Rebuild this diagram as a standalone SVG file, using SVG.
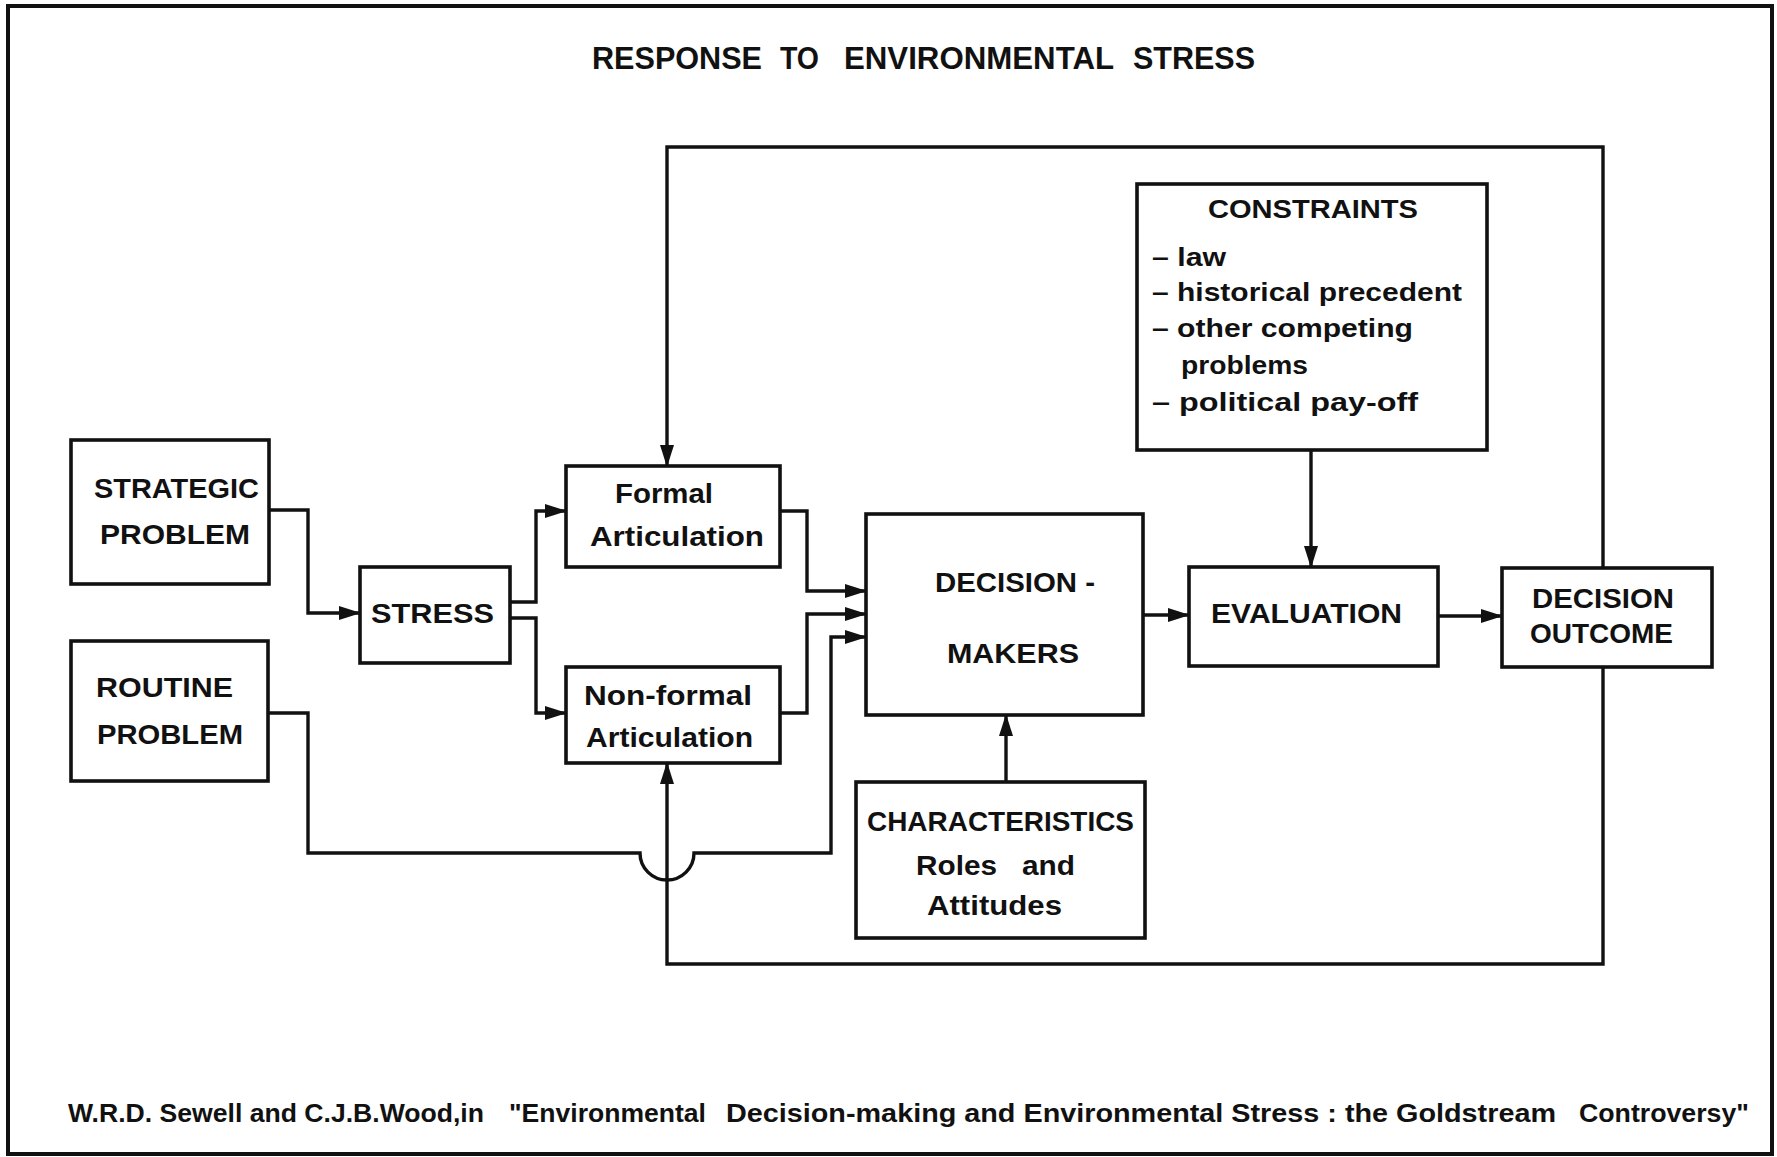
<svg xmlns="http://www.w3.org/2000/svg" width="1777" height="1157" viewBox="0 0 1777 1157">
<style>
.box{fill:#fff;stroke:#111;stroke-width:3.6}
.ln{fill:none;stroke:#111;stroke-width:3.4}
text{font-family:"Liberation Sans",Arial,sans-serif;font-weight:bold;fill:#111}
.t{font-size:28px}
.s{font-size:25px}
.h{font-size:32px}
.f{font-size:25px}
</style>
<defs>
<marker id="ah" markerUnits="userSpaceOnUse" markerWidth="22" markerHeight="14" refX="21" refY="7" orient="auto">
<path d="M0,0 L22,7 L0,14 z" fill="#111"/>
</marker>
</defs>
<rect width="1777" height="1157" fill="#fff"/>
<rect x="8" y="6" width="1764" height="1148" fill="none" stroke="#111" stroke-width="4"/>
<g id="title">
<text class="h" x="592" y="69" textLength="170" lengthAdjust="spacingAndGlyphs">RESPONSE</text>
<text class="h" x="780" y="69" textLength="39" lengthAdjust="spacingAndGlyphs">TO</text>
<text class="h" x="844" y="69" textLength="270" lengthAdjust="spacingAndGlyphs">ENVIRONMENTAL</text>
<text class="h" x="1133" y="69" textLength="122" lengthAdjust="spacingAndGlyphs">STRESS</text>
</g>

<g id="connectors">
<path class="ln" d="M1603,568 V147 H667 V466" marker-end="url(#ah)"/>
<path class="ln" d="M1603,667 V964 H667 V763" marker-end="url(#ah)"/>
<path class="ln" d="M269,510 H308 V613 H360" marker-end="url(#ah)"/>
<path class="ln" d="M510,602 H536 V511 H566" marker-end="url(#ah)"/>
<path class="ln" d="M510,618 H536 V713 H566" marker-end="url(#ah)"/>
<path class="ln" d="M780,511 H807 V591 H866" marker-end="url(#ah)"/>
<path class="ln" d="M780,713 H807 V614 H866" marker-end="url(#ah)"/>
<path class="ln" d="M268,713 H308 V853 H640 A27,27 0 0 0 694,853 H831 V637 H866" marker-end="url(#ah)"/>
<path class="ln" d="M1311,450 V567" marker-end="url(#ah)"/>
<path class="ln" d="M1006,782 V715" marker-end="url(#ah)"/>
<path class="ln" d="M1143,615 H1189" marker-end="url(#ah)"/>
<path class="ln" d="M1438,616 H1502" marker-end="url(#ah)"/>
</g>

<g id="strategic">
<rect class="box" x="71" y="440" width="198" height="144"/>
<text class="t" x="94" y="498" textLength="165" lengthAdjust="spacingAndGlyphs">STRATEGIC</text>
<text class="t" x="100" y="544" textLength="150" lengthAdjust="spacingAndGlyphs">PROBLEM</text>
</g>
<g id="routine">
<rect class="box" x="71" y="641" width="197" height="140"/>
<text class="t" x="96" y="697" textLength="137" lengthAdjust="spacingAndGlyphs">ROUTINE</text>
<text class="t" x="97" y="744" textLength="146" lengthAdjust="spacingAndGlyphs">PROBLEM</text>
</g>
<g id="stress">
<rect class="box" x="360" y="567" width="150" height="96"/>
<text class="t" x="371" y="623" textLength="123" lengthAdjust="spacingAndGlyphs">STRESS</text>
</g>
<g id="formal">
<rect class="box" x="566" y="466" width="214" height="101"/>
<text class="t" x="615" y="503" textLength="98" lengthAdjust="spacingAndGlyphs">Formal</text>
<text class="t" x="590" y="546" textLength="174" lengthAdjust="spacingAndGlyphs">Articulation</text>
</g>
<g id="nonformal">
<rect class="box" x="566" y="667" width="214" height="96"/>
<text class="t" x="584" y="705" textLength="168" lengthAdjust="spacingAndGlyphs">Non-formal</text>
<text class="t" x="586" y="747" textLength="167" lengthAdjust="spacingAndGlyphs">Articulation</text>
</g>
<g id="decisionmakers">
<rect class="box" x="866" y="514" width="277" height="201"/>
<text class="t" x="935" y="592" textLength="160" lengthAdjust="spacingAndGlyphs">DECISION -</text>
<text class="t" x="947" y="663" textLength="132" lengthAdjust="spacingAndGlyphs">MAKERS</text>
</g>
<g id="constraints">
<rect class="box" x="1137" y="184" width="350" height="266"/>
<text class="s" x="1208" y="218" textLength="210" lengthAdjust="spacingAndGlyphs">CONSTRAINTS</text>
<text class="s" x="1152" y="266" textLength="74" lengthAdjust="spacingAndGlyphs">– law</text>
<text class="s" x="1152" y="301" textLength="310" lengthAdjust="spacingAndGlyphs">– historical precedent</text>
<text class="s" x="1152" y="337" textLength="261" lengthAdjust="spacingAndGlyphs">– other competing</text>
<text class="s" x="1181" y="374" textLength="127" lengthAdjust="spacingAndGlyphs">problems</text>
<text class="s" x="1152" y="411" textLength="266" lengthAdjust="spacingAndGlyphs">– political pay-off</text>
</g>
<g id="evaluation">
<rect class="box" x="1189" y="567" width="249" height="99"/>
<text class="t" x="1211" y="623" textLength="191" lengthAdjust="spacingAndGlyphs">EVALUATION</text>
</g>
<g id="outcome">
<rect class="box" x="1502" y="568" width="210" height="99"/>
<text class="t" x="1532" y="608" font-size="29" textLength="142" lengthAdjust="spacingAndGlyphs">DECISION</text>
<text class="t" x="1530" y="643" font-size="29" textLength="143" lengthAdjust="spacingAndGlyphs">OUTCOME</text>
</g>
<g id="characteristics">
<rect class="box" x="856" y="782" width="289" height="156"/>
<text class="t" x="867" y="831" textLength="267" lengthAdjust="spacingAndGlyphs">CHARACTERISTICS</text>
<text class="t" x="916" y="875" textLength="81" lengthAdjust="spacingAndGlyphs">Roles</text>
<text class="t" x="1022" y="875" textLength="53" lengthAdjust="spacingAndGlyphs">and</text>
<text class="t" x="927" y="915" textLength="135" lengthAdjust="spacingAndGlyphs">Attitudes</text>
</g>
<g id="footer">
<text class="f" x="68" y="1122" textLength="416" lengthAdjust="spacingAndGlyphs">W.R.D. Sewell and C.J.B.Wood,in</text>
<text class="f" x="509" y="1122" textLength="197" lengthAdjust="spacingAndGlyphs">"Environmental</text>
<text class="f" x="726" y="1122" textLength="830" lengthAdjust="spacingAndGlyphs">Decision-making and Environmental Stress : the Goldstream</text>
<text class="f" x="1579" y="1122" textLength="170" lengthAdjust="spacingAndGlyphs">Controversy"</text>
</g>
</svg>
